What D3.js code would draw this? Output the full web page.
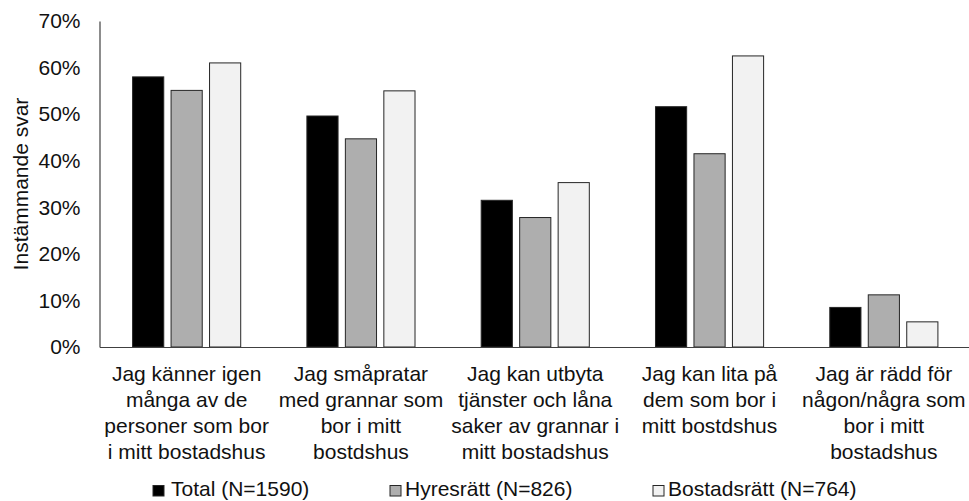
<!DOCTYPE html>
<html>
<head>
<meta charset="utf-8">
<script src="https://cdn.jsdelivr.net/npm/d3@7"></script>
<style>
  html, body { margin: 0; padding: 0; background: #fff; }
  svg { display: block; font-family: "Liberation Sans", Arial, sans-serif; }
</style>
</head>
<body>
<svg id="chart" width="969" height="501"></svg>
<script>
// ---- data ----
const categories = [
  ["Jag känner igen", "många av de", "personer som bor", "i mitt bostadshus"],
  ["Jag småpratar", "med grannar som", "bor i mitt", "bostdshus"],
  ["Jag kan utbyta", "tjänster och låna", "saker av grannar i", "mitt bostadshus"],
  ["Jag kan lita på", "dem som bor i", "mitt bostdshus"],
  ["Jag är rädd för", "någon/några som", "bor i mitt", "bostadshus"]
];
const seriesNames = ["Total (N=1590)", "Hyresrätt (N=826)", "Bostadsrätt (N=764)"];
const totalValues = [58.0, 49.6, 31.5, 51.6, 8.5];
const hyresValues = [55.1, 44.7, 27.8, 41.5, 11.2];
const bostadValues = [61.0, 55.0, 35.3, 62.5, 5.4];
const yTicks = [0, 10, 20, 30, 40, 50, 60, 70];
const yTitle = "Instämmande svar";

const seriesValues = [totalValues, hyresValues, bostadValues];
const fills = ["#000000", "#AEAEAE", "#F2F2F2"];

// ---- layout ----
const svg = d3.select("#chart");
const plotLeft = 99.5, plotRight = 971, plotTop = 21, plotBottom = 347;

const x0 = d3.scaleBand().domain(d3.range(categories.length)).range([plotLeft, plotRight]).padding(0);
const x1 = d3.scaleBand().domain(d3.range(seriesNames.length)).range([0, x0.bandwidth()])
  .paddingInner(0.19).paddingOuter(0.86);
const y = d3.scaleLinear().domain([0, 70]).range([plotBottom, plotTop]);

const textColor = "#111";
const fontSize = 21;

// bars
const groups = svg.append("g").selectAll("g")
  .data(categories.map((c, i) => i))
  .join("g")
  .attr("transform", i => `translate(${x0(i)},0)`);

groups.selectAll("rect")
  .data(i => seriesValues.map((vals, s) => ({ s, v: vals[i] })))
  .join("rect")
  .attr("x", d => x1(d.s))
  .attr("y", d => y(d.v))
  .attr("width", x1.bandwidth())
  .attr("height", d => y(0) - y(d.v))
  .attr("fill", d => fills[d.s])
  .attr("stroke", "#262626")
  .attr("stroke-width", 1);

// y axis
const yAxis = d3.axisLeft(y).tickValues(yTicks).tickSize(0).tickPadding(19)
  .tickFormat(d => d + "%");
const yg = svg.append("g").attr("transform", `translate(${plotLeft},0)`).call(yAxis);
yg.select(".domain").attr("stroke", "#404040").attr("stroke-width", 1.2);
yg.selectAll("text").attr("font-size", fontSize).attr("fill", textColor)
  .attr("font-family", "Liberation Sans, Arial, sans-serif");

// x axis line
const xAxis = d3.axisBottom(x0).tickSize(0).tickFormat("");
const xg = svg.append("g").attr("transform", `translate(0,${plotBottom})`).call(xAxis);
xg.select(".domain").attr("stroke", "#404040").attr("stroke-width", 1.2);

// category labels
const lineH = 26.1;
const catLabels = svg.append("g").selectAll("text")
  .data(categories)
  .join("text")
  .attr("text-anchor", "middle")
  .attr("font-size", fontSize)
  .attr("fill", textColor)
  .attr("x", (d, i) => x0(i) + x0.bandwidth() / 2)
  .attr("y", 380.5);
catLabels.selectAll("tspan")
  .data(d => d)
  .join("tspan")
  .attr("x", function () { return d3.select(this.parentNode).attr("x"); })
  .attr("dy", (d, j) => j === 0 ? 0 : lineH)
  .text(d => d);

// y title
svg.append("text")
  .attr("transform", `translate(28,${(plotTop + plotBottom) / 2}) rotate(-90)`)
  .attr("text-anchor", "middle")
  .attr("font-size", fontSize)
  .attr("fill", textColor)
  .text(yTitle);

// legend
const legendX = [153, 390, 653];
const leg = svg.append("g").selectAll("g")
  .data(seriesNames)
  .join("g")
  .attr("transform", (d, i) => `translate(${legendX[i]},496)`);
leg.append("rect")
  .attr("x", 0).attr("y", -10.5).attr("width", 11).attr("height", 10.5)
  .attr("fill", (d, i) => fills[i])
  .attr("stroke", "#262626").attr("stroke-width", 1);
leg.append("text")
  .attr("x", (d, i) => i === 0 ? 18 : 15).attr("y", 0)
  .attr("font-size", fontSize)
  .attr("fill", textColor)
  .text(d => d);
</script>
</body>
</html>
